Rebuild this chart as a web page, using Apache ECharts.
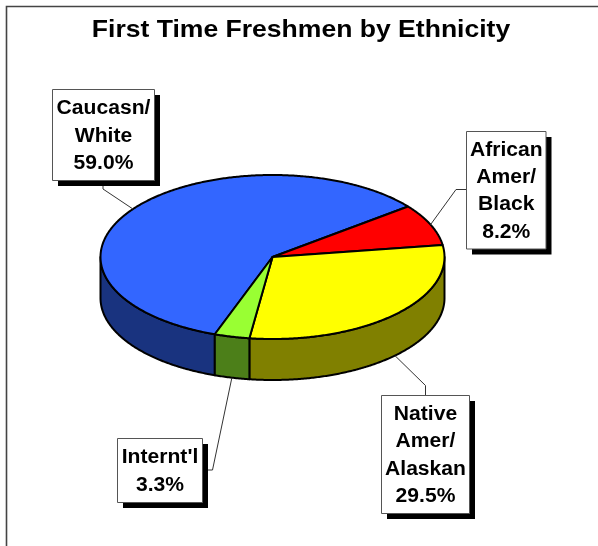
<!DOCTYPE html>
<html>
<head>
<meta charset="utf-8">
<style>html,body{margin:0;padding:0;background:#fff}#c{width:598px;height:546px}</style>
<script src="https://cdn.jsdelivr.net/npm/echarts@6/dist/echarts.min.js"></script>
</head>
<body>
<div id="c"></div>
<script>
const chartTitle = "First Time Freshmen by Ethnicity";
const categories = ["Caucasn/\nWhite", "African\nAmer/\nBlack", "Native\nAmer/\nAlaskan", "Internt'l"];
const shares = [59.0, 8.2, 29.5, 3.3];
const topColors = ["#3366FF", "#FF0000", "#FFFF00", "#99FF33"];
const sideColors = ["#19337F", "#7F0000", "#808000", "#4C7F19"];

// Layout only
const pie = {cx: 272.5, cy: 257, rx: 172, ry: 82, depth: 41, start: 199.6};
const callouts = [
  {x: 52.5, y: 89.5, w: 102, h: 91, path: [[103, 181], [103, 189]]},
  {x: 466.5, y: 131.5, w: 79.5, h: 117.5, path: [[466, 189.5], [456, 189.5]]},
  {x: 381.5, y: 395.5, w: 88, h: 118, path: [[425.5, 395], [425.5, 385.5]]},
  {x: 117.5, y: 438.5, w: 85, h: 64, path: [[203, 470], [212.5, 470]]}
];

const total = shares.reduce((a, b) => a + b, 0);
const ranges = [];
shares.reduce((acc, v) => {
  const end = acc + v / total * 360;
  ranges.push([acc, end]);
  return end;
}, pie.start);

function rim(deg, dy) {
  const r = deg * Math.PI / 180;
  return [pie.cx + pie.rx * Math.sin(r), pie.cy - pie.ry * Math.cos(r) + (dy || 0)];
}
function arc(a0, a1, dy) {
  const n = Math.max(2, Math.ceil(Math.abs(a1 - a0) * 2)), pts = [];
  for (let i = 0; i <= n; i++) pts.push(rim(a0 + (a1 - a0) * i / n, dy));
  return pts;
}
function visibleSide(a0, a1) {
  for (const k of [0, 360, -360]) {
    const s = Math.max(a0, 90 + k), e = Math.min(a1, 270 + k);
    if (e > s) return [s, e];
  }
  return null;
}

const dataIdx = shares.map((v, i) => [i, v]);

const option = {
  animation: false,
  backgroundColor: "#fff",
  graphic: [{
    type: "rect", silent: true, z: -1,
    shape: {x: 6.5, y: 6.5, width: 800, height: 800},
    style: {fill: "#fff", stroke: "#444", lineWidth: 1.6}
  }, {
    type: "text", silent: true, z: 5,
    x: 301, y: 30, scaleX: 1.106,
    style: {
      text: chartTitle, x: 0, y: 0, align: "center", verticalAlign: "middle",
      fontFamily: "Liberation Sans", fontWeight: "bold", fontSize: 24, fill: "#000"
    }
  }],
  series: [
    {
      type: "custom", coordinateSystem: "none", silent: true, z: 2, data: dataIdx,
      renderItem(params, api) {
        const i = api.value(0), r = ranges[i], v = visibleSide(r[0], r[1]);
        if (!v) return {type: "group", children: []};
        return {
          type: "polygon",
          shape: {points: arc(v[0], v[1], 0).concat(arc(v[1], v[0], pie.depth))},
          style: {fill: sideColors[i], stroke: "#000", lineWidth: 2, lineJoin: "round"}
        };
      }
    },
    {
      type: "custom", coordinateSystem: "none", silent: true, z: 3, data: dataIdx,
      renderItem(params, api) {
        const i = api.value(0), r = ranges[i];
        return {
          type: "polygon",
          shape: {points: [[pie.cx, pie.cy]].concat(arc(r[0], r[1], 0))},
          style: {fill: topColors[i], stroke: "#000", lineWidth: 2, lineJoin: "round"}
        };
      }
    },
    {
      type: "custom", coordinateSystem: "none", silent: true, z: 4, data: dataIdx,
      renderItem(params, api) {
        const i = api.value(0), r = ranges[i], c = callouts[i];
        const mid = (r[0] + r[1]) / 2;
        const m = mid % 360;
        const front = m > 90 && m < 270;
        const anchor = rim(mid, front ? pie.depth : 0);
        return {
          type: "group",
          children: [
            {type: "polyline", shape: {points: c.path.concat([anchor])},
             style: {fill: null, stroke: "#333", lineWidth: 1}},
            {type: "rect", shape: {x: c.x + 5.5, y: c.y + 5.5, width: c.w, height: c.h},
             style: {fill: "#000"}},
            {type: "rect", shape: {x: c.x, y: c.y, width: c.w, height: c.h},
             style: {fill: "#fff", stroke: "#555", lineWidth: 1}},
            {type: "text",
             x: c.x + c.w / 2, y: c.y + c.h / 2 + 1, scaleX: 1.055,
             style: {
              text: categories[i] + "\n" + api.value(1).toFixed(1) + "%",
              x: 0, y: 0,
              align: "center", verticalAlign: "middle",
              fontFamily: "Liberation Sans", fontWeight: "bold", fontSize: 20,
              lineHeight: 27.3, fill: "#000"
            }}
          ]
        };
      }
    }
  ]
};
echarts.init(document.getElementById("c"), null, {renderer: "canvas"}).setOption(option);
</script>
</body>
</html>
